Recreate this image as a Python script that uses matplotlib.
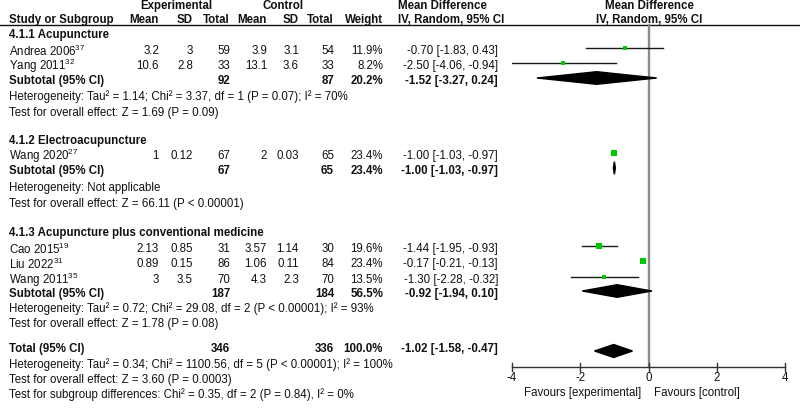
import matplotlib
matplotlib.use("Agg")
import matplotlib.pyplot as plt
from matplotlib.patches import Polygon

plt.rcParams['font.family'] = ['Liberation Sans', 'DejaVu Sans']
plt.rcParams['mathtext.fontset'] = 'custom'
plt.rcParams['mathtext.rm'] = 'Liberation Sans'
plt.rcParams['mathtext.it'] = 'Liberation Sans:italic'
plt.rcParams['mathtext.bf'] = 'Liberation Sans:bold'

# ---------------- data ----------------
group_titles = ["4.1.1 Acupuncture", "4.1.2 Electroacupuncture",
                "4.1.3 Acupuncture plus conventional medicine"]
study_names = ["Andrea 2006", "Yang 2011", "Wang 2020", "Cao 2015", "Liu 2022", "Wang 2011"]
study_refs = ["37", "32", "27", "19", "31", "35"]
study_group = [0, 0, 1, 2, 2, 2]
exp_mean = ["3.2", "10.6", "1", "2.13", "0.89", "3"]
exp_sd = ["3", "2.8", "0.12", "0.85", "0.15", "3.5"]
exp_n = [59, 33, 67, 31, 86, 70]
ctl_mean = ["3.9", "13.1", "2", "3.57", "1.06", "4.3"]
ctl_sd = ["3.1", "3.6", "0.03", "1.14", "0.11", "2.3"]
ctl_n = [54, 33, 65, 30, 84, 70]
weights = [11.9, 8.2, 23.4, 19.6, 23.4, 13.5]
md = [-0.70, -2.50, -1.00, -1.44, -0.17, -1.30]
md_lo = [-1.83, -4.06, -1.03, -1.95, -0.21, -2.28]
md_hi = [0.43, -0.94, -0.97, -0.93, -0.13, -0.32]

sub_exp_n = [92, 67, 187]
sub_ctl_n = [87, 65, 184]
sub_weight = [20.2, 23.4, 56.5]
sub_md = [-1.52, -1.00, -0.92]
sub_lo = [-3.27, -1.03, -1.94]
sub_hi = [0.24, -0.97, 0.10]
sub_het = ["Heterogeneity: Tau² = 1.14; Chi² = 3.37, df = 1 (P = 0.07); I² = 70%",
           "Heterogeneity: Not applicable",
           "Heterogeneity: Tau² = 0.72; Chi² = 29.08, df = 2 (P < 0.00001); I² = 93%"]
sub_test = ["Test for overall effect: Z = 1.69 (P = 0.09)",
            "Test for overall effect: Z = 66.11 (P < 0.00001)",
            "Test for overall effect: Z = 1.78 (P = 0.08)"]

tot_exp_n = 346
tot_ctl_n = 336
tot_weight = 100.0
tot_md, tot_lo, tot_hi = -1.02, -1.58, -0.47
tot_lines = ["Heterogeneity: Tau² = 0.34; Chi² = 1100.56, df = 5 (P < 0.00001); I² = 100%",
             "Test for overall effect: Z = 3.60 (P = 0.0003)",
             "Test for subgroup differences: Chi² = 0.35, df = 2 (P = 0.84), I² = 0%"]

x_ticks = [-4, -2, 0, 2, 4]
x_tick_labels = ["-4", "-2", "0", "2", "4"]

# ---------------- layout (pixel rows) ----------------
group_y = [35, 141, 233]
study_y = [51, 66, 156, 249, 264, 280]
sub_y = [81, 171, 294]
het_y = [97, 188, 309]
test_y = [113, 204, 324]
total_y = 349
tot_line_y = [365, 380, 395]

FS = 8.3
TXT = '#111111'
W, H = 800, 408
fig = plt.figure(figsize=(8, 4.08), dpi=100)
ax = fig.add_axes([0, 0, 1, 1])
ax.set_xlim(0, W)
ax.set_ylim(H, 0)
ax.axis('off')

fx0, fx1 = 512, 785
fa = fig.add_axes([fx0 / W, 0, (fx1 - fx0) / W, 1])
fa.set_xlim(-4, 4)
fa.set_ylim(H, 0)
fa.axis('off')

col_x = dict(emean=159, esd=193, en=230, cmean=267, csd=299, cn=334, w=383, md=498)
name_x = 9


def t(x, y, s, ha='left', bold=False, **kw):
    ax.text(x, y, s, ha=ha, va='center', fontsize=FS,
            fontweight='bold' if bold else 'normal', color=TXT, **kw)


# headers
t(176, 6, "Experimental", ha='center', bold=True)
t(283, 6, "Control", ha='center', bold=True)
t(398, 6, "Mean Difference", bold=True)
t(649, 6, "Mean Difference", ha='center', bold=True)
t(name_x, 20, "Study or Subgroup", bold=True)
for key, lab in [('emean', 'Mean'), ('esd', 'SD'), ('en', 'Total'), ('cmean', 'Mean'),
                 ('csd', 'SD'), ('cn', 'Total'), ('w', 'Weight')]:
    t(col_x[key], 20, lab, ha='right', bold=True)
t(398, 20, "IV, Random, 95% CI", bold=True)
t(649, 20, "IV, Random, 95% CI", ha='center', bold=True)
ax.plot([0, W], [24.5, 24.5], color='#111111', lw=1.0)

# zero line
fa.plot([0, 0], [24.5, 367], color='#8a8a8a', lw=1.7, zorder=1)

MK = '#00c800'

for g in range(3):
    t(name_x, group_y[g], group_titles[g], bold=True)
    for i in range(len(study_names)):
        if study_group[i] != g:
            continue
        y = study_y[i]
        t(name_x, y, study_names[i] + r"$^{" + study_refs[i] + "}$")
        t(col_x['emean'], y, exp_mean[i], ha='right')
        t(col_x['esd'], y, exp_sd[i], ha='right')
        t(col_x['en'], y, str(exp_n[i]), ha='right')
        t(col_x['cmean'], y, ctl_mean[i], ha='right')
        t(col_x['csd'], y, ctl_sd[i], ha='right')
        t(col_x['cn'], y, str(ctl_n[i]), ha='right')
        t(col_x['w'], y, f"{weights[i]:.1f}%", ha='right')
        t(col_x['md'], y, f"{md[i]:.2f} [{md_lo[i]:.2f}, {md_hi[i]:.2f}]", ha='right')
        my = y - 3
        fa.plot([md_lo[i], md_hi[i]], [my, my], color='#1a1a1a', lw=1.0, zorder=2)
        side = 1.32 * weights[i] ** 0.5 * 0.72
        fa.plot([md[i]], [my], marker='s', ms=side, color=MK, mec=MK, mew=0, zorder=3)
    y = sub_y[g]
    t(name_x, y, "Subtotal (95% CI)", bold=True)
    t(col_x['en'], y, str(sub_exp_n[g]), ha='right', bold=True)
    t(col_x['cn'], y, str(sub_ctl_n[g]), ha='right', bold=True)
    t(col_x['w'], y, f"{sub_weight[g]:.1f}%", ha='right', bold=True)
    t(col_x['md'], y, f"{sub_md[g]:.2f} [{sub_lo[g]:.2f}, {sub_hi[g]:.2f}]", ha='right', bold=True)
    dy = y - 3
    fa.add_patch(Polygon([[sub_lo[g], dy], [sub_md[g], dy - 6.3], [sub_hi[g], dy],
                          [sub_md[g], dy + 6.3]], closed=True, color='black', zorder=3))
    t(name_x, het_y[g], sub_het[g])
    t(name_x, test_y[g], sub_test[g])

# total
t(name_x, total_y, "Total (95% CI)", bold=True)
t(col_x['en'], total_y, str(tot_exp_n), ha='right', bold=True)
t(col_x['cn'], total_y, str(tot_ctl_n), ha='right', bold=True)
t(col_x['w'], total_y, f"{tot_weight:.1f}%", ha='right', bold=True)
t(col_x['md'], total_y, f"{tot_md:.2f} [{tot_lo:.2f}, {tot_hi:.2f}]", ha='right', bold=True)
dy = total_y + 2
fa.add_patch(Polygon([[tot_lo, dy], [tot_md, dy - 6.5], [tot_hi, dy], [tot_md, dy + 6.5]],
                     closed=True, color='black', zorder=3))
for s, y in zip(tot_lines, tot_line_y):
    t(name_x, y, s)

# x axis
ay = 367
fa.plot([x_ticks[0], x_ticks[-1]], [ay, ay], color='#333333', lw=1.0, clip_on=False)
for xv, lab in zip(x_ticks, x_tick_labels):
    fa.plot([xv, xv], [ay - 4, ay + 4], color='#333333', lw=1.0, clip_on=False)
    fa.text(xv, ay + 11, lab, ha='center', va='center', fontsize=FS, color=TXT)
fa.text(-0.2, 393, "Favours [experimental]", ha='right', va='center', fontsize=FS, color=TXT)
fa.text(0.15, 393, "Favours [control]", ha='left', va='center', fontsize=FS, color=TXT)

fig.savefig("out.png", dpi=100)
